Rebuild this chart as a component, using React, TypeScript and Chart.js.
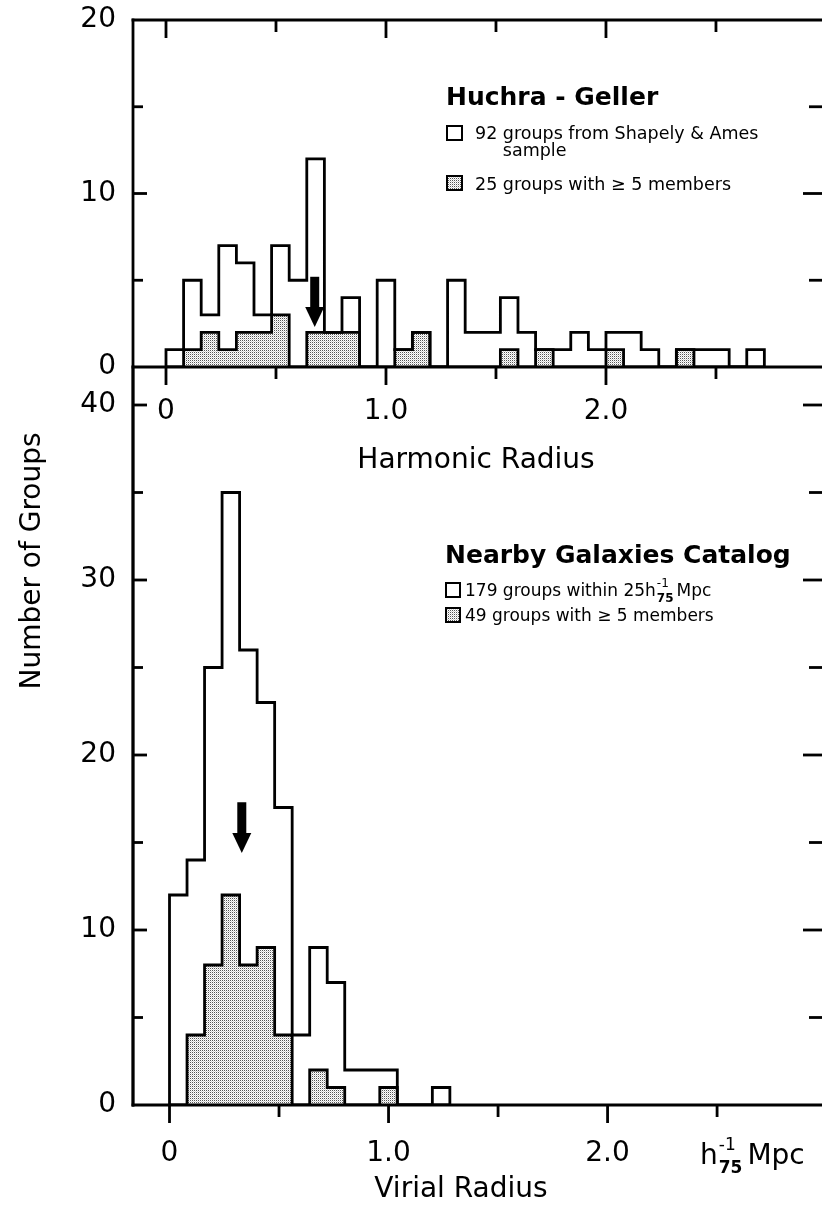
import React, { useEffect, useRef } from "react";
import { Chart, registerables } from "chart.js";

Chart.register(...registerables);

// ---------------- data ----------------
// Huchra-Geller groups, harmonic radius histogram (bins of 0.08 h75^-1 Mpc from 0)
const hgBinStart = 0;
const hgBinWidth = 0.08;
const hgAllCounts = [1, 5, 3, 7, 6, 3, 7, 5, 12, 2, 4, 0, 5, 1, 2, 0, 5, 2, 2, 4, 2, 1, 1, 2, 1, 2, 2, 1, 0, 1, 1, 1, 0, 1];
const hgRichCounts = [0, 1, 2, 1, 2, 2, 3, 0, 2, 2, 2, 0, 0, 1, 2, 0, 0, 0, 0, 1, 0, 1, 0, 0, 0, 1, 0, 0, 0, 1, 0, 0, 0, 0];
const hgArrow = [0.676, 5.2, 2.3]; // x, top, tip

// Nearby Galaxies Catalog groups, virial radius histogram
const nbgBinStart = 0;
const nbgBinWidth = 0.08;
const nbgAllCounts = [12, 14, 25, 35, 26, 23, 17, 4, 9, 7, 2, 2, 2, 0, 0, 1];
const nbgRichCounts = [0, 4, 8, 12, 8, 9, 4, 0, 2, 1, 0, 0, 1, 0, 0, 0];
const nbgArrow = [0.33, 17.3, 14.4];

// ticks
const xTickValues = [0, 0.5, 1, 1.5, 2, 2.5];
const xTickLabels = ["0", "", "1.0", "", "2.0", ""];
const hgYTickValues = [0, 5, 10, 15, 20];
const hgYTickLabels = ["0", "", "10", "", "20"];
const nbgYTickValues = [0, 5, 10, 15, 20, 25, 30, 35, 40];
const nbgYTickLabels = ["0", "", "10", "", "20", "", "30", "", "40"];

// texts
const hgTitle = "Huchra - Geller";
const hgLegendAll = ["92 groups from Shapely & Ames", "sample"];
const hgLegendRich = "25 groups with \u2265 5 members";
const nbgTitle = "Nearby Galaxies Catalog";
const nbgLegendAll = "179 groups within 25h";
const nbgLegendRich = "49 groups with \u2265 5 members";
const topXTitle = "Harmonic Radius";
const botXTitle = "Virial Radius";
const yTitle = "Number of Groups";

// ---------------- helpers ----------------
const FONT = '"DejaVu Sans", "Liberation Sans", sans-serif';
const BLACK = "#000";
const LW = 2.8;
const W = 822;
const H = 1205;

function stepPoints(start: number, width: number, counts: number[]) {
  const pts = [{ x: start, y: 0 }];
  counts.forEach((c, i) => pts.push({ x: start + i * width, y: c }));
  pts.push({ x: start + counts.length * width, y: 0 });
  return pts;
}

function makePattern(): CanvasPattern | string {
  const c = document.createElement("canvas");
  c.width = 2;
  c.height = 2;
  const g = c.getContext("2d");
  if (!g) return "#ccc";
  g.fillStyle = "#fff";
  g.fillRect(0, 0, 2, 2);
  g.fillStyle = "#555";
  g.fillRect(0, 0, 1, 1);
  g.fillStyle = "#d0d0d0";
  g.fillRect(1, 1, 1, 1);
  return g.createPattern(c, "repeat") || "#ccc";
}

function seg(ctx: CanvasRenderingContext2D, x1: number, y1: number, x2: number, y2: number) {
  ctx.beginPath();
  ctx.moveTo(x1, y1);
  ctx.lineTo(x2, y2);
  ctx.stroke();
}

function drawArrow(ctx: CanvasRenderingContext2D, x: number, yTop: number, yTip: number) {
  const headLen = 20;
  const sw = 9;
  const hw = 19;
  const hs = yTip - headLen;
  ctx.fillStyle = BLACK;
  ctx.fillRect(x - sw / 2, yTop, sw, hs - yTop + 1);
  ctx.beginPath();
  ctx.moveTo(x - hw / 2, hs);
  ctx.lineTo(x + hw / 2, hs);
  ctx.lineTo(x, yTip);
  ctx.closePath();
  ctx.fill();
}

function legendBox(ctx: CanvasRenderingContext2D, x: number, y: number, w: number, h: number, fill: any) {
  ctx.fillStyle = fill;
  ctx.fillRect(x, y, w, h);
  ctx.lineWidth = 2;
  ctx.strokeStyle = BLACK;
  ctx.strokeRect(x, y, w, h);
}

function datasets(start: number, width: number, all: number[], rich: number[], pattern: any) {
  return [
    {
      label: "all",
      data: stepPoints(start, width, all),
      stepped: true,
      borderColor: BLACK,
      borderWidth: LW,
      pointRadius: 0,
      fill: false,
      borderJoinStyle: "miter",
    },
    {
      label: "rich",
      data: stepPoints(start, width, rich),
      stepped: true,
      borderColor: BLACK,
      borderWidth: LW,
      pointRadius: 0,
      backgroundColor: pattern,
      fill: "origin",
      borderJoinStyle: "miter",
    },
  ];
}

function scalesFor(xMin: number, xMax: number, yMax: number, yVals: number[], yLabels: string[], xHeight: number, xPad: number) {
  return {
    x: {
      type: "linear",
      min: xMin,
      max: xMax,
      afterBuildTicks: (s: any) => {
        s.ticks = xTickValues.map((v) => ({ value: v }));
      },
      afterFit: (s: any) => {
        s.height = xHeight;
        s.paddingLeft = 0;
        s.paddingRight = 0;
      },
      grid: { display: false, drawTicks: false },
      border: { display: false },
      ticks: {
        autoSkip: false,
        maxRotation: 0,
        padding: xPad,
        color: BLACK,
        font: { family: FONT, size: 28 },
        callback: (_v: any, i: number) => xTickLabels[i],
      },
    },
    y: {
      type: "linear",
      min: 0,
      max: yMax,
      afterBuildTicks: (s: any) => {
        s.ticks = yVals.map((v) => ({ value: v }));
      },
      afterFit: (s: any) => {
        s.width = 133;
        s.paddingTop = 0;
        s.paddingBottom = 0;
      },
      grid: { display: false, drawTicks: false },
      border: { display: false },
      ticks: {
        autoSkip: false,
        padding: 17,
        color: BLACK,
        font: { family: FONT, size: 28 },
        callback: (_v: any, i: number) => yLabels[i],
      },
    },
  };
}

// axisFrom / axisTo: vertical extent of the left axis line in page pixels
function drawFrameTicks(chart: any, yVals: number[], yMax: number, topBorder: boolean, axisFrom: number, axisTo: number) {
  const { ctx, chartArea: a, scales } = chart;
  const x = scales.x;
  const y = scales.y;
  const left = a.left;
  ctx.save();
  ctx.strokeStyle = BLACK;
  ctx.fillStyle = BLACK;
  ctx.lineWidth = LW;
  ctx.lineCap = "butt";
  ctx.fillRect(left - LW / 2, axisFrom - LW / 2, LW, axisTo - axisFrom + LW);
  if (topBorder) seg(ctx, left - LW / 2, a.top, a.right, a.top);
  seg(ctx, left - LW / 2, a.bottom, a.right, a.bottom);
  xTickValues.forEach((v, i) => {
    const px = x.getPixelForValue(v);
    const len = i % 2 === 0 ? 18 : 12;
    if (topBorder) seg(ctx, px, a.top, px, a.top + len);
    seg(ctx, px, a.bottom, px, a.bottom + len);
  });
  yVals.forEach((v) => {
    if (v === 0) return;
    if (topBorder && v === yMax) return;
    const py = y.getPixelForValue(v);
    const major = v % 10 === 0;
    seg(ctx, left, py, left + (major ? 14 : 10), py);
    seg(ctx, a.right, py, a.right - (major ? 19 : 13), py);
  });
  ctx.restore();
}

// ---------------- component ----------------
export default function App() {
  const topRef = useRef<HTMLCanvasElement>(null);
  const botRef = useRef<HTMLCanvasElement>(null);

  useEffect(() => {
    const pattern = makePattern();

    const topDecor = {
      id: "topDecor",
      afterDraw(chart: any) {
        const { ctx, scales, chartArea } = chart;
        drawFrameTicks(chart, hgYTickValues, 20, true, chartArea.top, 1105);
        ctx.save();
        drawArrow(ctx, scales.x.getPixelForValue(hgArrow[0]), scales.y.getPixelForValue(hgArrow[1]), scales.y.getPixelForValue(hgArrow[2]));
        // legend
        ctx.fillStyle = BLACK;
        ctx.textAlign = "left";
        ctx.textBaseline = "alphabetic";
        ctx.font = `bold 25px ${FONT}`;
        ctx.fillText(hgTitle, 446, 105);
        legendBox(ctx, 447, 126, 15, 14, "#fff");
        ctx.fillStyle = BLACK;
        ctx.font = `17.5px ${FONT}`;
        ctx.fillText(hgLegendAll[0], 475, 138.5);
        const indent = ctx.measureText("92 ").width;
        ctx.fillText(hgLegendAll[1], 475 + indent, 156);
        legendBox(ctx, 447, 176, 15, 14, pattern);
        ctx.fillStyle = BLACK;
        ctx.font = `17.5px ${FONT}`;
        ctx.fillText(hgLegendRich, 475, 190);
        // x title
        ctx.font = `28px ${FONT}`;
        ctx.textAlign = "center";
        ctx.fillText(topXTitle, 476, 468);
        ctx.restore();
      },
    };

    const botDecor = {
      id: "botDecor",
      afterDraw(chart: any) {
        const { ctx, scales, chartArea } = chart;
        drawFrameTicks(chart, nbgYTickValues, 40, false, 367, chartArea.bottom);
        ctx.save();
        drawArrow(ctx, scales.x.getPixelForValue(nbgArrow[0]), scales.y.getPixelForValue(nbgArrow[1]), scales.y.getPixelForValue(nbgArrow[2]));
        // legend
        ctx.fillStyle = BLACK;
        ctx.textAlign = "left";
        ctx.textBaseline = "alphabetic";
        ctx.font = `bold 25px ${FONT}`;
        ctx.fillText(nbgTitle, 445, 563);
        legendBox(ctx, 446, 583, 14, 14, "#fff");
        ctx.fillStyle = BLACK;
        ctx.font = `17px ${FONT}`;
        ctx.fillText(nbgLegendAll, 465, 596);
        let xx = 465 + ctx.measureText(nbgLegendAll).width + 1;
        ctx.font = `12px ${FONT}`;
        ctx.fillText("-1", xx, 587);
        ctx.font = `bold 12px ${FONT}`;
        ctx.fillText("75", xx, 602);
        xx += ctx.measureText("75").width + 3;
        ctx.font = `17px ${FONT}`;
        ctx.fillText("Mpc", xx, 596);
        legendBox(ctx, 446, 608, 14, 14, pattern);
        ctx.fillStyle = BLACK;
        ctx.font = `17px ${FONT}`;
        ctx.fillText(nbgLegendRich, 465, 621);
        // unit label on x axis
        ctx.font = `28px ${FONT}`;
        ctx.fillText("h", 700, 1164);
        let ux = 700 + ctx.measureText("h").width + 1;
        ctx.font = `17px ${FONT}`;
        ctx.fillText("-1", ux, 1150);
        ctx.font = `bold 17px ${FONT}`;
        ctx.fillText("75", ux, 1173);
        ux += ctx.measureText("75").width + 5;
        ctx.font = `28px ${FONT}`;
        ctx.fillText("Mpc", ux, 1164);
        // x title
        ctx.textAlign = "center";
        ctx.fillText(botXTitle, 461, 1197);
        // y title
        ctx.translate(33, 561);
        ctx.rotate(-Math.PI / 2);
        ctx.textBaseline = "middle";
        ctx.fillText(yTitle, 0, 0);
        ctx.restore();
      },
    };

    const common = {
      responsive: false,
      animation: false,
      events: [],
      plugins: { legend: { display: false }, tooltip: { enabled: false } },
    };

    const c1 = new Chart(topRef.current as HTMLCanvasElement, {
      type: "line",
      data: { datasets: datasets(hgBinStart, hgBinWidth, hgAllCounts, hgRichCounts, pattern) as any },
      options: {
        ...common,
        layout: { padding: { top: 20, left: 0, right: 0, bottom: H - 480 } },
        scales: scalesFor(-0.15, 2.982, 20, hgYTickValues, hgYTickLabels, 113, 28) as any,
      } as any,
      plugins: [topDecor],
    });

    const c2 = new Chart(botRef.current as HTMLCanvasElement, {
      type: "line",
      data: { datasets: datasets(nbgBinStart, nbgBinWidth, nbgAllCounts, nbgRichCounts, pattern) as any },
      options: {
        ...common,
        layout: { padding: { top: 405, left: 0, right: 0, bottom: 0 } },
        scales: scalesFor(-0.1667, 2.979, 40, nbgYTickValues, nbgYTickLabels, 100, 32) as any,
      } as any,
      plugins: [botDecor],
    });

    return () => {
      c1.destroy();
      c2.destroy();
    };
  }, []);

  return (
    <div style={{ position: "absolute", left: 0, top: 0, width: W, height: H, background: "#fff", overflow: "hidden" }}>
      <canvas ref={topRef} width={W} height={H} style={{ position: "absolute", left: 0, top: 0, width: W, height: H }} />
      <canvas ref={botRef} width={W} height={H} style={{ position: "absolute", left: 0, top: 0, width: W, height: H }} />
    </div>
  );
}
